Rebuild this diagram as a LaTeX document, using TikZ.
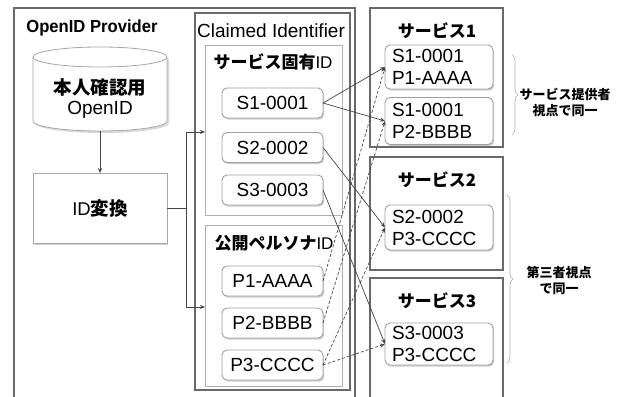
\documentclass[tikz,border=0pt]{standalone}
\usepackage{fontspec}
\setmainfont{Liberation Sans}
\newfontfamily\jp{Noto Sans CJK JP}
\usetikzlibrary{arrows.meta,shadows,decorations.pathreplacing}
\definecolor{frame}{RGB}{105,105,105}
\definecolor{grp}{RGB}{175,175,175}
\definecolor{lnk}{RGB}{70,70,70}
\begin{document}
\begin{tikzpicture}[x=1pt,y=-1pt,
  outer/.style={draw=frame,line width=1.4pt},
  grpbox/.style={draw=grp,line width=0.8pt,inner sep=0pt,outer sep=0pt,anchor=north west},
  idbox/.style={draw=gray!75,line width=0.9pt,rounded corners=5pt,fill=white,
     drop shadow={shadow xshift=1.2pt,shadow yshift=-1.6pt,opacity=0.4},
     minimum width=101pt,minimum height=30pt,inner sep=0pt,outer sep=0pt,
     font=\fontsize{19}{22}\selectfont},
  svcid/.style={idbox,minimum width=108pt,text width=94pt,align=left,inner xsep=7pt},
  title/.style={font=\fontsize{17}{20}\selectfont\jp\bfseries},
  lbl/.style={font=\fontsize{19}{22}\selectfont},
  link/.style={draw=lnk,line width=0.7pt,-{Stealth[length=5pt,width=4pt]}},
  dlink/.style={link,dash pattern=on 3pt off 2pt},
  note/.style={font=\fontsize{13}{16}\selectfont\jp\bfseries,align=center},
  brc/.style={draw=gray!60,line width=0.6pt,decorate,decoration={brace,amplitude=6pt}}
]
\useasboundingbox (0,0) rectangle (620,396);
\fill[white] (0,0) rectangle (620,396);
\clip (0,0) rectangle (620,396);

% outer frames
\draw[outer] (14,8) rectangle (355,410);
\draw[outer] (195,13) rectangle (350,390);
\draw[outer] (370,8) rectangle (503,147);
\draw[outer] (370,157) rectangle (503,270);
\draw[outer] (370,278) rectangle (503,410);

\node[font=\fontsize{17.5}{20}\selectfont\bfseries,anchor=west,xscale=0.95] (opt) at (23,28) {OpenID Provider};

% database cylinder
\node[align=center,minimum width=134pt,minimum height=84pt,inner sep=0pt,outer sep=0pt] (db) at (100,89) {};
\fill[gray!30] (35,59) -- (35,123) arc[start angle=180,end angle=360,x radius=67pt,y radius=10pt] -- (169,59) -- cycle;
\filldraw[fill=white,draw=gray!70,line width=0.8pt] (33,57) -- (33,121) arc[start angle=180,end angle=360,x radius=67pt,y radius=10pt] -- (167,57);
\draw[gray!70,line width=0.8pt,fill=white] (100,57) ellipse[x radius=67pt,y radius=10pt];
\node[font=\fontsize{18.5}{22}\selectfont\jp\bfseries] (dbt1) at (100,88) {本人確認用};
\node[lbl] (dbt2) at (100,110) {OpenID};

% ID conversion
\node[draw=gray!70,line width=0.8pt,fill=white,minimum width=134pt,minimum height=70pt,
  inner sep=0pt,outer sep=0pt,drop shadow={shadow xshift=1.2pt,shadow yshift=-1.6pt,opacity=0.35},
  font=\fontsize{18.5}{22}\selectfont] (idc) at (100,208) {ID{\jp\bfseries 変換}};
\draw[link] (db.south) -- (idc.north);

% Claimed identifier
\node[lbl] (cit) at (271,31) {Claimed Identifier};
\node[grpbox,minimum width=137pt,minimum height=170pt] (sgrp) at (205,45) {};
\node[grpbox,minimum width=137pt,minimum height=161pt] (pgrp) at (205,225) {};
\node[font=\fontsize{17}{20}\selectfont] (sgt) at (273,62) {{\jp\bfseries サービス固有}ID};
\node[font=\fontsize{17}{20}\selectfont] (pgt) at (274,243) {{\jp\bfseries 公開ペルソナ}ID};

\node[idbox] (s1) at (272.5,103) {S1-0001};
\node[idbox] (s2) at (272.5,147.5) {S2-0002};
\node[idbox] (s3) at (272.5,190) {S3-0003};
\node[idbox] (p1) at (272.5,281) {P1-AAAA};
\node[idbox] (p2) at (272.5,323) {P2-BBBB};
\node[idbox] (p3) at (272.5,365) {P3-CCCC};

% branching connector
\coordinate (jt) at (186,132);
\coordinate (jb) at (186,307);
\draw[link] (idc.east) -| (jt) -- (sgrp.west |- jt);
\draw[link] (idc.east) -| (jb) -- (pgrp.west |- jb);

% services
\node[title] (t1) at (437,31) {サービス1};
\node[title] (t2) at (437,180) {サービス2};
\node[title] (t3) at (437,301) {サービス3};
\node[svcid,minimum height=44pt] (a1) at (439,67) {S1-0001\\P1-AAAA};
\node[svcid,minimum height=47pt] (a2) at (439,121) {S1-0001\\P2-BBBB};
\node[svcid,minimum height=45pt] (b) at (439,227.5) {S2-0002\\P3-CCCC};
\node[svcid,minimum height=42pt] (c) at (439,344) {S3-0003\\P3-CCCC};

% links
\draw[link] (s1.east) -- (a1.west);
\draw[link] (s1.east) -- (a2.west);
\draw[link] (s2.east) -- (b.west);
\draw[link] (s3.east) -- (c.west);
\draw[dlink] (p1.east) -- (a1.west);
\draw[dlink] (p2.east) -- (a2.west);
\draw[dlink] (p3.east) -- (b.west);
\draw[dlink] (p3.east) -- (c.west);

% braces
\coordinate (br1a) at (512,55);
\coordinate (br1b) at (512,135);
\coordinate (br2a) at (507,195);
\coordinate (br2b) at (507,363);
\draw[brc] (br1a) -- (br1b);
\draw[brc] (br2a) -- (br2b);
\node[note] (n1) at (565,102) {サービス提供者\\視点で同一};
\node[note] (n2) at (559,280) {第三者視点\\で同一};
\end{tikzpicture}
\end{document}
